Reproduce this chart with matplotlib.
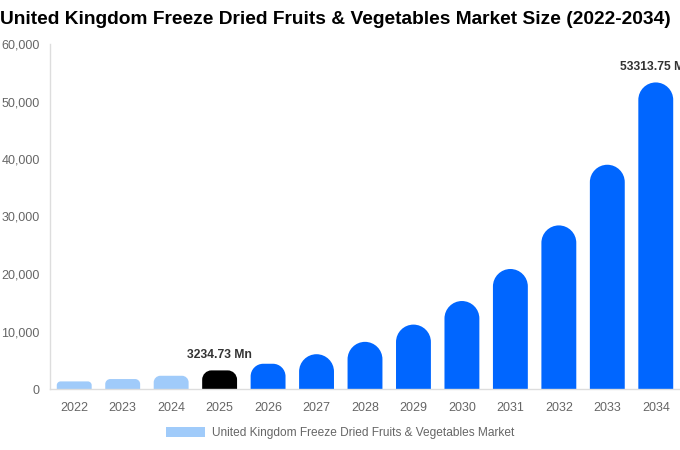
import matplotlib
matplotlib.use("Agg")
import matplotlib.pyplot as plt
from matplotlib.path import Path
from matplotlib.patches import PathPatch, Patch
import numpy as np

years = ["2022", "2023", "2024", "2025", "2026", "2027", "2028",
         "2029", "2030", "2031", "2032", "2033", "2034"]
values = [1320, 1730, 2300, 3234.73, 4390, 6050, 8200,
          11200, 15300, 20870, 28450, 39000, 53313.75]
labelled = {"2025": "3234.73 Mn", "2034": "53313.75 Mn"}
legend_label = "United Kingdom Freeze Dried Fruits & Vegetables Market"
title = "United Kingdom Freeze Dried Fruits & Vegetables Market Size (2022-2034)"

light_blue = "#a0cbfa"
blue = "#0066ff"
colors = [light_blue] * 3 + ["#000000"] + [blue] * 9

plt.rcParams["font.family"] = ["Liberation Sans", "DejaVu Sans"]

W, H = 680, 450
fig = plt.figure(figsize=(W / 100, H / 100), dpi=100)
ax = fig.add_axes([50 / W, (H - 389) / H, 630 / W, (389 - 44) / H])

x = np.arange(len(years))
ax.set_xlim(-0.5, len(years) - 0.5)
ax.set_ylim(0, 60000)
bars = ax.bar(x, values, width=0.72, color=colors)

# data units per pixel, used to turn the bar tops into round caps
ax_w_px = 630
ax_h_px = 389 - 44
ux = (len(years)) / ax_w_px
uy = 60000 / ax_h_px


def rounded_bar(b):
    x0, y0 = b.get_x(), b.get_y()
    w, h = b.get_width(), b.get_height()
    r_px = min(w / ux / 2, h / uy / 2)
    rx, ry = r_px * ux, r_px * uy
    k = 0.5523
    verts = [
        (x0, y0), (x0, y0 + h - ry),
        (x0, y0 + h - ry + k * ry), (x0 + rx - k * rx, y0 + h), (x0 + rx, y0 + h),
        (x0 + w - rx, y0 + h),
        (x0 + w - rx + k * rx, y0 + h), (x0 + w, y0 + h - ry + k * ry), (x0 + w, y0 + h - ry),
        (x0 + w, y0), (x0, y0),
    ]
    codes = [Path.MOVETO, Path.LINETO,
             Path.CURVE4, Path.CURVE4, Path.CURVE4,
             Path.LINETO,
             Path.CURVE4, Path.CURVE4, Path.CURVE4,
             Path.LINETO, Path.CLOSEPOLY]
    return Path(verts, codes)


for b in bars:
    b.set_visible(False)
    ax.add_patch(PathPatch(rounded_bar(b), facecolor=b.get_facecolor(),
                           edgecolor="none"))

for i, yr in enumerate(years):
    if yr in labelled:
        ax.annotate(labelled[yr], (x[i], values[i]), xytext=(0, 7),
                    textcoords="offset points", ha="center", va="bottom",
                    fontsize=8.7, fontweight="bold", color="#333333",
                    annotation_clip=False)

ax.set_xticks(x)
ax.set_xticklabels(years)
ax.set_yticks(np.arange(0, 60001, 10000))
ax.set_yticklabels([f"{v:,}" for v in range(0, 60001, 10000)])
ax.tick_params(axis="both", length=0, labelsize=9, colors="#666666")
ax.tick_params(axis="x", pad=9.5)
ax.tick_params(axis="y", pad=7.5)

for side in ["top", "right"]:
    ax.spines[side].set_visible(False)
for side in ["left", "bottom"]:
    ax.spines[side].set_color("#dddddd")
    ax.spines[side].set_linewidth(1)

fig.text(0.5 / W, 1 - 20 / H, title, fontsize=13.8, fontweight="bold",
         ha="left", va="center", color="#000000")

fig.legend(handles=[Patch(facecolor=light_blue, label=legend_label)],
           loc="center", bbox_to_anchor=(340 / W, 1 - 433 / H), frameon=False,
           fontsize=8.6, labelcolor="#666666", handlelength=3.3, handleheight=0.9,
           handletextpad=0.6)

fig.savefig("out.png", dpi=100)
